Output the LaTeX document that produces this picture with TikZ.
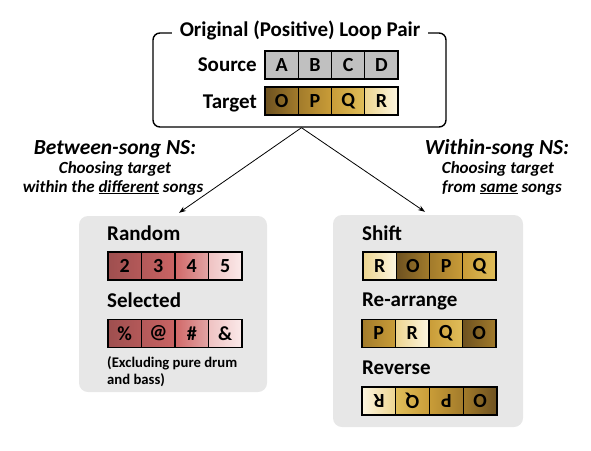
\documentclass[tikz,border=0pt]{standalone}
\usepackage{fontspec}
\setmainfont{Carlito}
\usetikzlibrary{arrows.meta}
\definecolor{oL}{HTML}{6D5120}
\definecolor{oR}{HTML}{A27B2B}
\definecolor{pL}{HTML}{A27B2B}
\definecolor{pR}{HTML}{C99C38}
\definecolor{qL}{HTML}{C99C38}
\definecolor{qR}{HTML}{E0BE5A}
\definecolor{rL}{HTML}{EDD590}
\definecolor{rR}{HTML}{FDF6E0}
\definecolor{gL}{HTML}{9E4F4F}
\definecolor{gR}{HTML}{B45959}
\definecolor{hL}{HTML}{B45959}
\definecolor{hR}{HTML}{C96464}
\definecolor{iL}{HTML}{D06868}
\definecolor{iR}{HTML}{E3A5A5}
\definecolor{jL}{HTML}{EFC2C2}
\definecolor{jR}{HTML}{FBEAEA}
\definecolor{srcgray}{HTML}{C0C0C0}
\definecolor{boxgray}{HTML}{E7E7E7}
\begin{document}
\begin{tikzpicture}[x=1pt,y=-1pt,
  cell/.style={draw=black, line width=1.3pt, minimum width=33.25pt, minimum height=28pt, inner sep=0pt, font=\fontsize{20}{20}\selectfont\bfseries},
  lbl/.style={font=\fontsize{21}{21}\selectfont\bfseries, inner sep=0pt},
  small/.style={font=\fontsize{14.7}{14.7}\selectfont\bfseries, inner sep=0pt},
  head/.style={font=\fontsize{21.5}{21.5}\selectfont\bfseries\itshape, inner sep=0pt},
  sub/.style={font=\fontsize{17}{17}\selectfont\bfseries\itshape, inner sep=0pt},
  graybox/.style={fill=boxgray, draw=none, rounded corners=9pt, inner sep=0pt},
  arr/.style={-{Stealth[length=7pt,width=5pt]}, line width=0.8pt}]
\useasboundingbox (0,0) rectangle (591,450);
% top box
\node[draw=black, line width=1.4pt, rounded corners=7pt, minimum width=293pt, minimum height=94pt, inner sep=0pt] (top) at (299.5,80) {};
\node[lbl, fill=white, inner xsep=8pt, inner ysep=2pt, anchor=base] (title) at (300,36) {Original (Positive) Loop Pair};
\node[lbl, anchor=base east] (srclbl) at (257,71) {Source};
\node[lbl, anchor=base east] (tgtlbl) at (257,108) {Target};
\foreach \t [count=\i] in {A,B,C,D}
  \node[cell, fill=srcgray] (s\i) at (248.375+33.25*\i, 65) {\t};
\foreach \t/\l/\r [count=\i] in {O/oL/oR,P/pL/pR,Q/qL/qR,R/rL/rR}
  \node[cell, left color=\l, right color=\r] (t\i) at (248.375+33.25*\i, 101) {\t};
% gray boxes
\node[graybox, minimum width=188pt, minimum height=176pt] (lbox) at (173,304) {};
\node[graybox, minimum width=190pt, minimum height=212pt] (rbox) at (428,321) {};
% arrows
\draw[arr] ([xshift=2pt]top.south) -- ([xshift=6pt,yshift=3pt]lbox.north);
\draw[arr] ([xshift=2pt]top.south) -- ([xshift=-3pt,yshift=3pt]rbox.north);
% headings
\node[head, anchor=base] (bh) at (115,154) {Between-song NS:};
\node[sub, anchor=base] (bs1) at (115,173) {Choosing target};
\node[sub, anchor=base] (bs2) at (113,192) {within the \underline{different} songs};
\node[head, anchor=base] (wh) at (497,154) {Within-song NS:};
\node[sub, anchor=base] (ws1) at (498,173) {Choosing target};
\node[sub, anchor=base] (ws2) at (502,192) {from \underline{same} songs};
% left box contents
\node[lbl, anchor=base west] (rnd) at (107,240) {Random};
\foreach \t/\l/\r [count=\i] in {2/gL/gR,3/hL/hR,4/iL/iR,5/jL/jR}
  \node[cell, minimum width=33.5pt, left color=\l, right color=\r] (r\i) at (91.25+33.5*\i, 266) {\t};
\node[lbl, anchor=base west] (sel) at (107,307) {Selected};
\foreach \t/\l/\r [count=\i] in {\%/gL/gR,@/hL/hR,\#/iL/iR,\&/jL/jR}
  \node[cell, minimum width=33.5pt, left color=\l, right color=\r] (e\i) at (91.25+33.5*\i, 333.5) {\t};
\node[small, anchor=base west] (ex1) at (107,367) {(Excluding pure drum};
\node[small, anchor=base west] (ex2) at (107,384) {and bass)};
% right box contents
\node[lbl, anchor=base west] (shf) at (362,240) {Shift};
\foreach \t/\l/\r [count=\i] in {R/rL/rR,O/oL/oR,P/pL/pR,Q/qL/qR}
  \node[cell, left color=\l, right color=\r] (h\i) at (346.375+33.25*\i, 266) {\t};
\node[lbl, anchor=base west] (rea) at (362,306) {Re-arrange};
\foreach \t/\l/\r [count=\i] in {P/pL/pR,R/rL/rR,Q/qL/qR,O/oL/oR}
  \node[cell, minimum width=33.5pt, left color=\l, right color=\r] (a\i) at (345.25+33.5*\i, 333.5) {\t};
\node[lbl, anchor=base west] (rev) at (362,374) {Reverse};
\foreach \t/\l/\r [count=\i] in {R/rR/rL,Q/qR/qL,P/pR/pL,O/oR/oL}
  \node[cell, minimum width=33.75pt, left color=\l, right color=\r] (v\i) at (345.125+33.75*\i, 401) {\rotatebox{180}{\t}};
\end{tikzpicture}
\end{document}
